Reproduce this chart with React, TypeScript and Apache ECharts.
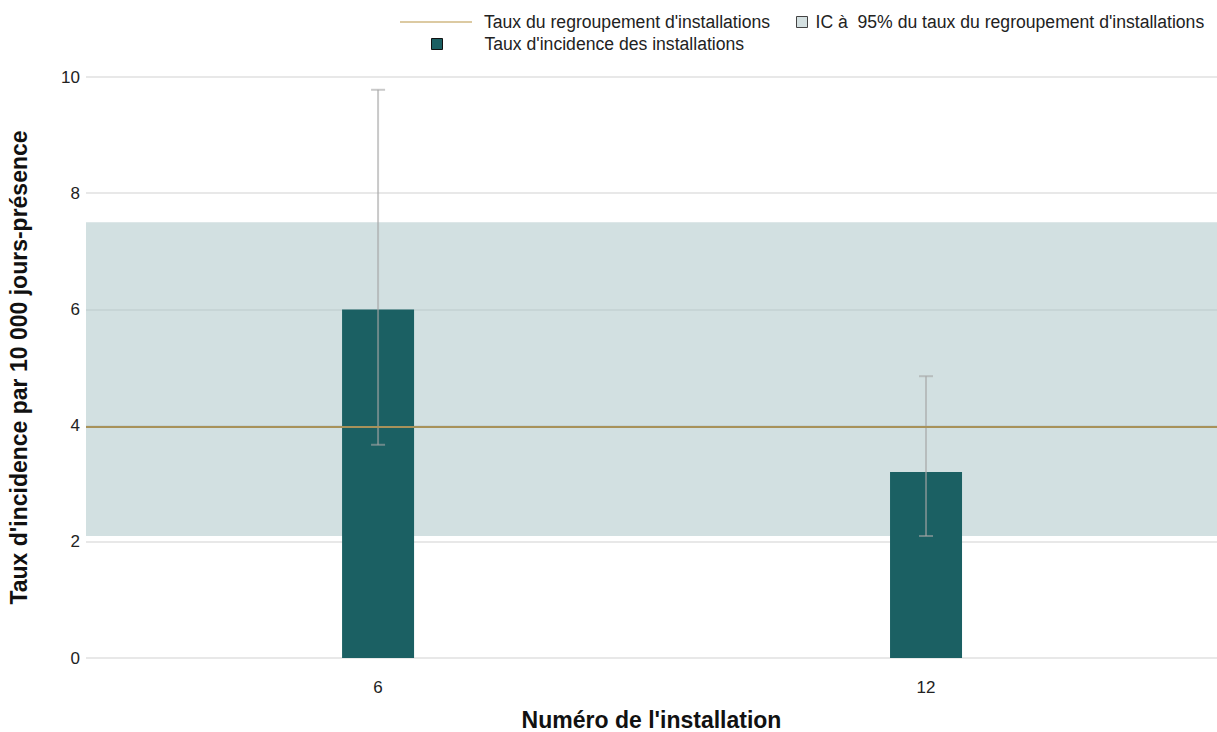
import React, { useEffect, useRef } from "react";
import * as echarts from "echarts";

const categories = ["6", "12"];
const incidenceRates = [6.0, 3.2];
const ciLower = [3.67, 2.1];
const ciUpper = [9.78, 4.85];
const pooledRate = 3.98;
const pooledCI = [2.1, 7.5];
const yTicks = [0, 2, 4, 6, 8, 10];

const FONT = "'Liberation Sans', Arial, sans-serif";
const LINE_NAME = "Taux du regroupement d'installations";
const CI_NAME = "IC à  95% du taux du regroupement d'installations";
const BAR_NAME = "Taux d'incidence des installations";

export default function App() {
  const ref = useRef<HTMLDivElement>(null);
  useEffect(() => {
    if (!ref.current) return;
    const chart = echarts.init(ref.current, null, { renderer: "svg" });
    const positions = categories.map((_, i) => i + 1);
    const barData = incidenceRates.map((v, i) => [positions[i], v]);
    const errData = positions.map((p, i) => [p, ciLower[i], ciUpper[i]]);
    const legendText = { fontFamily: FONT, fontSize: 17.6, color: "#222" };
    chart.setOption({
      animation: false,
      textStyle: { fontFamily: FONT },
      grid: { left: 86, right: 0, top: 77, bottom: 74, containLabel: false, outerBoundsMode: "none" },
      legend: [
        {
          data: [{ name: LINE_NAME, icon: "rect", itemStyle: { color: "#dccaa2" } }],
          left: 395,
          top: 8,
          itemWidth: 72,
          itemHeight: 2,
          textStyle: { ...legendText, padding: [0, 0, 0, 7] },
          selectedMode: false,
        },
        {
          data: [{ name: CI_NAME, icon: "rect", itemStyle: { color: "#d4e0e1", borderColor: "#444", borderWidth: 1 } }],
          left: 791,
          top: 8,
          itemWidth: 11,
          itemHeight: 11,
          textStyle: { ...legendText, padding: [0, 0, 0, 3] },
          selectedMode: false,
        },
        {
          data: [{ name: BAR_NAME, icon: "rect", itemStyle: { color: "#1b5f62", borderColor: "#111", borderWidth: 1 } }],
          left: 426,
          top: 30,
          itemWidth: 11,
          itemHeight: 11,
          textStyle: { ...legendText, padding: [0, 0, 0, 37] },
          selectedMode: false,
        },
      ],
      xAxis: {
        type: "value",
        min: 0.467,
        max: 2.531,
        name: "Numéro de l'installation",
        nameLocation: "middle",
        nameGap: 50,
        nameTextStyle: { fontFamily: FONT, fontSize: 23, fontWeight: "bold", color: "#111" },
        axisLine: { show: false },
        axisTick: { show: false },
        splitLine: { show: false },
        axisLabel: {
          customValues: positions,
          formatter: (v: number) => categories[Math.round(v) - 1] ?? "",
          margin: 21,
          fontFamily: FONT,
          fontSize: 17,
          color: "#222",
        },
      },
      yAxis: {
        type: "value",
        min: 0,
        max: 10,
        interval: 2,
        name: "Taux d'incidence par 10 000 jours-présence",
        nameLocation: "middle",
        nameGap: 56,
        nameTextStyle: { fontFamily: FONT, fontSize: 23, fontWeight: "bold", color: "#111" },
        axisLine: { show: false },
        axisTick: { show: false },
        axisLabel: {
          margin: 6,
          fontFamily: FONT,
          fontSize: 17,
          color: "#222",
          formatter: (v: number) => (yTicks.includes(v) ? String(v) : ""),
        },
        splitLine: { lineStyle: { color: "#e8e8e8", width: 2 } },
      },
      series: [
        {
          name: CI_NAME,
          type: "line",
          data: [],
          itemStyle: { color: "#d4e0e1" },
          markArea: {
            silent: true,
            itemStyle: { color: "rgba(166,193,195,0.5)" },
            data: [[{ yAxis: pooledCI[0] }, { yAxis: pooledCI[1] }]],
          },
          z: 1,
        },
        {
          name: BAR_NAME,
          type: "bar",
          data: barData,
          barWidth: 72,
          itemStyle: { color: "#1b6063" },
          z: 2,
        },
        {
          name: LINE_NAME,
          type: "line",
          data: [],
          itemStyle: { color: "#dccaa2" },
          markLine: {
            silent: true,
            symbol: "none",
            label: { show: false },
            lineStyle: { color: "#a8925a", width: 2, type: "solid" },
            data: [{ yAxis: pooledRate }],
          },
          z: 3,
        },
        {
          name: "errors",
          type: "custom",
          data: errData,
          z: 4,
          renderItem: (params: any, api: any) => {
            const x = api.value(0);
            const lo = api.coord([x, api.value(1)]);
            const hi = api.coord([x, api.value(2)]);
            const cap = 7;
            const style = { stroke: "rgba(165,165,165,0.6)", lineWidth: 2 };
            return {
              type: "group",
              children: [
                { type: "line", shape: { x1: lo[0], y1: lo[1], x2: hi[0], y2: hi[1] }, style },
                { type: "line", shape: { x1: hi[0] - cap, y1: hi[1], x2: hi[0] + cap, y2: hi[1] }, style },
                { type: "line", shape: { x1: lo[0] - cap, y1: lo[1], x2: lo[0] + cap, y2: lo[1] }, style },
              ],
            };
          },
        },
      ],
    });
    return () => chart.dispose();
  }, []);
  return (
    <div
      ref={ref}
      style={{ position: "fixed", left: 0, top: 0, width: 1217, height: 732, background: "#fff" }}
    />
  );
}
